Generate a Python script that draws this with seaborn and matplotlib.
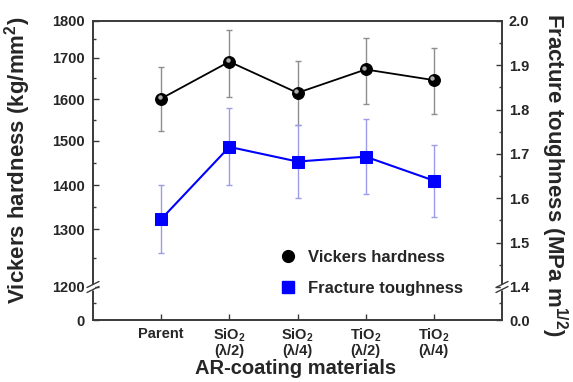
import numpy as np
import pandas as pd
import matplotlib
matplotlib.use("Agg")
import matplotlib.pyplot as plt
import seaborn as sns
from matplotlib.lines import Line2D
from matplotlib.transforms import offset_copy
from matplotlib.ticker import FixedLocator, FormatStrFormatter

# ---- data -------------------------------------------------------------
categories = ["Parent", "SiO$_2$\n(λ/2)", "SiO$_2$\n(λ/4)", "TiO$_2$\n(λ/2)", "TiO$_2$\n(λ/4)"]
hardness = [1601, 1691, 1615, 1672, 1646]          # kg/mm^2
hardness_err = [78, 85, 78, 83, 81]
toughness = [1.553, 1.716, 1.683, 1.694, 1.640]    # MPa m^1/2
toughness_err = [0.077, 0.087, 0.082, 0.085, 0.081]

hardness_ticks = [0, 1200, 1300, 1400, 1500, 1600, 1700, 1800]
hardness_minor = [600, 1250, 1350, 1450, 1550, 1650, 1750]
toughness_ticks = [0.0, 1.4, 1.5, 1.6, 1.7, 1.8, 1.9, 2.0]
toughness_minor = [0.7, 1.45, 1.55, 1.65, 1.75, 1.85, 1.95]

# ---- broken-axis mappings (value -> fraction of axis height) ----------
hardness_anchor_vals = [0, 1200, 1300, 1400, 1500, 1600, 1700, 1800]
hardness_anchor_pos = [0.0, 0.1104, 0.3043, 0.4515, 0.5987, 0.7391, 0.8763, 1.0]
toughness_anchor_vals = [0.0, 1.4, 2.0]
toughness_anchor_pos = [0.0, 0.1104, 1.0]


def piecewise(xp, fp):
    xp = np.asarray(xp, float)
    fp = np.asarray(fp, float)

    def f(v):
        v = np.asarray(v, float)
        out = np.interp(v, xp, fp)
        lo_slope = (fp[1] - fp[0]) / (xp[1] - xp[0])
        hi_slope = (fp[-1] - fp[-2]) / (xp[-1] - xp[-2])
        out = np.where(v < xp[0], fp[0] + (v - xp[0]) * lo_slope, out)
        out = np.where(v > xp[-1], fp[-1] + (v - xp[-1]) * hi_slope, out)
        return out
    return f


h_fwd = piecewise(hardness_anchor_vals, hardness_anchor_pos)
h_inv = piecewise(hardness_anchor_pos, hardness_anchor_vals)
t_fwd = piecewise(toughness_anchor_vals, toughness_anchor_pos)
t_inv = piecewise(toughness_anchor_pos, toughness_anchor_vals)

# ---- style ------------------------------------------------------------
sns.set_style("ticks")
plt.rcParams["font.family"] = ["Liberation Sans", "DejaVu Sans"]
plt.rcParams["font.weight"] = "bold"
plt.rcParams["axes.labelweight"] = "bold"
plt.rcParams["mathtext.fontset"] = "custom"
plt.rcParams["mathtext.rm"] = "Liberation Sans:bold"
plt.rcParams["mathtext.bf"] = "Liberation Sans:bold"
plt.rcParams["mathtext.it"] = "Liberation Sans:bold:italic"
plt.rcParams["mathtext.default"] = "bf"

df = pd.DataFrame({
    "pos": np.arange(len(categories)),
    "hardness": hardness,
    "toughness": toughness,
})

fig = plt.figure(figsize=(5.73, 3.82), dpi=100)
ax = fig.add_axes([93 / 573, 1 - 320 / 382, 409 / 573, 299 / 382])
ax2 = ax.twinx()

ax.set_yscale("function", functions=(h_fwd, h_inv))
ax2.set_yscale("function", functions=(t_fwd, t_inv))

# Vickers hardness
ax.errorbar(df["pos"], df["hardness"], yerr=hardness_err, fmt="none",
            ecolor="#8e8e8e", elinewidth=1.0, capsize=2.3, capthick=1.0, zorder=1)
sns.lineplot(data=df, x="pos", y="hardness", ax=ax, color="black", lw=1.3,
             marker="o", markersize=8.5, markeredgecolor="black",
             markerfacecolor="black", legend=False, zorder=3)
# specular highlight on the spheres
ax.plot(df["pos"], df["hardness"], "o", ms=3.2, color="#d8d8d8", alpha=0.8, mew=0,
        transform=offset_copy(ax.transData, fig=fig, x=-1.2, y=1.3, units="points"),
        zorder=4)

# Fracture toughness
ax2.errorbar(df["pos"], df["toughness"], yerr=toughness_err, fmt="none",
             ecolor="#9c9cea", elinewidth=1.0, capsize=2.3, capthick=1.0, zorder=1)
sns.lineplot(data=df, x="pos", y="toughness", ax=ax2, color="#0000ff", lw=1.5,
             marker="s", markersize=8, markeredgecolor="#0000ff",
             markerfacecolor="#0000ff", legend=False, zorder=3)

# ---- axes ---------------------------------------------------------------
ax.set_xlim(-1, 5)
ax.set_ylim(0, 1800)
ax2.set_ylim(0, 2.0)

ax.set_xticks(df["pos"])
ax.set_xticklabels(categories, fontsize=10.5, fontweight="bold")
for t in ax.get_xticklabels():
    t.set_linespacing(1.0)

ax.yaxis.set_major_locator(FixedLocator(hardness_ticks))
ax.yaxis.set_minor_locator(FixedLocator(hardness_minor))
ax.yaxis.set_major_formatter(FormatStrFormatter("%d"))
ax2.yaxis.set_major_locator(FixedLocator(toughness_ticks))
ax2.yaxis.set_minor_locator(FixedLocator(toughness_minor))
ax2.yaxis.set_major_formatter(FormatStrFormatter("%.1f"))

ax.tick_params(axis="y", which="major", direction="in", length=4.5, width=1,
               labelsize=10.5, pad=6, right=False, color="#3a3a3a")
ax.tick_params(axis="y", which="minor", direction="in", length=2.5, width=1,
               right=False, color="#3a3a3a")
ax.tick_params(axis="x", which="major", direction="in", length=4.5, width=1,
               pad=5, top=False, color="#3a3a3a")
ax.tick_params(axis="x", which="minor", bottom=False, top=False)
ax2.tick_params(axis="y", which="major", direction="in", length=4.5, width=1,
                labelsize=10.5, pad=5, color="#3a3a3a")
ax2.tick_params(axis="y", which="minor", direction="in", length=2.5, width=1,
                color="#3a3a3a")
for lab in ax.get_yticklabels() + ax2.get_yticklabels():
    lab.set_fontweight("bold")

for a in (ax, ax2):
    for s in a.spines.values():
        s.set_color("#3a3a3a")
        s.set_linewidth(1.2)
    a.set_xlabel("")
    a.set_ylabel("")

ax.set_ylabel("Vickers hardness (kg/mm$^2$)", fontsize=16, fontweight="bold")
ax.yaxis.set_label_coords(-0.147, 0.535)
ax2.set_ylabel("Fracture toughness (MPa m$^{1/2}$)", fontsize=16,
               fontweight="bold", rotation=270, va="bottom")
ax2.yaxis.set_label_coords(1.09, 0.485)
ax.set_xlabel("AR-coating materials", fontsize=14.5, fontweight="bold")
ax.xaxis.set_label_coords(0.496, -0.132)

# ---- axis break marks -------------------------------------------------
yb = float(h_fwd(1200))
gap, dx, ddy = 0.0084, 0.0147, 0.010
for xs in (0.0, 1.0):
    ax2.plot([xs, xs], [yb - gap, yb + gap], color="white", lw=2.5,
             transform=ax2.transAxes, clip_on=False, zorder=10,
             solid_capstyle="butt")
    for dy in (-gap, gap):
        ax2.plot([xs - dx, xs + dx], [yb + dy - ddy, yb + dy + ddy],
                 color="#3a3a3a", lw=1.0, transform=ax2.transAxes,
                 clip_on=False, zorder=11)

# ---- legend -----------------------------------------------------------
handles = [
    Line2D([], [], ls="none", marker="o", color="black", ms=8.5),
    Line2D([], [], ls="none", marker="s", color="#0000ff", ms=8),
]
ax2.legend(handles, ["Vickers hardness", "Fracture toughness"],
           loc="upper left", bbox_to_anchor=(0.457, 0.235), frameon=False,
           prop={"size": 12, "weight": "bold"}, handlelength=1.0,
           handletextpad=0.7, labelspacing=0.95, borderpad=0, borderaxespad=0)

fig.savefig("out.png", dpi=100)
